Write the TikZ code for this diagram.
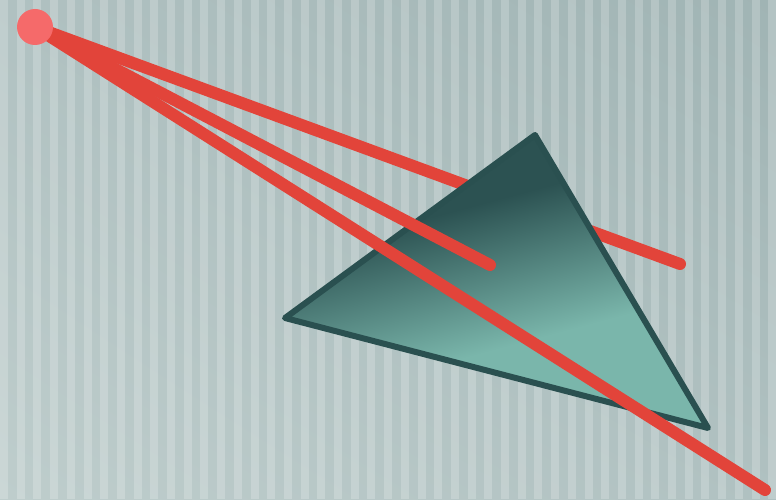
\documentclass[tikz,border=0pt]{standalone}
\usetikzlibrary{positioning, calc, shadings}
\definecolor{bgll}{RGB}{190, 205, 204}
\definecolor{bgmid}{RGB}{176, 193, 193}
\definecolor{bgur}{RGB}{160, 180, 180}
\definecolor{rayred}{RGB}{226, 68, 58}
\definecolor{lampred}{RGB}{245, 106, 106}
\definecolor{tridark}{RGB}{44, 82, 82}
\definecolor{trilight}{RGB}{122, 182, 171}
\definecolor{triedge}{RGB}{42, 80, 80}

\begin{document}
\begin{tikzpicture}[x=1pt, y=1pt,
    ray/.style={draw=rayred, line width=12pt, line cap=round},
    lamp/.style={circle, minimum size=36pt, inner sep=0pt},
    stripe/.style={fill=white, opacity=0.2}
]
    % background
    \useasboundingbox (0,0) rectangle (776,499);
    \shade[lower left=bgll, upper right=bgur, upper left=bgmid, lower right=bgmid]
        (0,0) rectangle (776,499);
    \foreach \i in {0,...,46}
        \fill[stripe] ({\i*16.7},0) rectangle ({\i*16.7+8},499);

    % source and ray ends
    \node[lamp] (src) at (35,472) {};
    \coordinate (far) at (680,235);
    \coordinate (short) at (490,234);
    \coordinate (exit) at (765,9);

    % triangle corners
    \coordinate (ta) at (535,364);
    \coordinate (tb) at (285,181);
    \coordinate (tc) at (708,71);

    \draw[ray] (src.center) -- (far);
    \begin{scope}
        \clip (ta) -- (tb) -- (tc) -- cycle;
        \begin{scope}[transform canvas={rotate around={15:(560,241)}}]
            \fill[tridark] (150,313) rectangle (950,650);
            \fill[trilight] (150,-150) rectangle (950,170);
            \shade[top color=tridark, bottom color=trilight] (150,169) rectangle (950,314);
        \end{scope}
    \end{scope}
    \draw[triedge, line width=6pt, line join=round] (ta) -- (tb) -- (tc) -- cycle;
    \draw[ray] (src.center) -- (short);
    \draw[ray] (src.center) -- (exit);
    \fill[lampred] (src.center) circle (18pt);
\end{tikzpicture}
\end{document}
